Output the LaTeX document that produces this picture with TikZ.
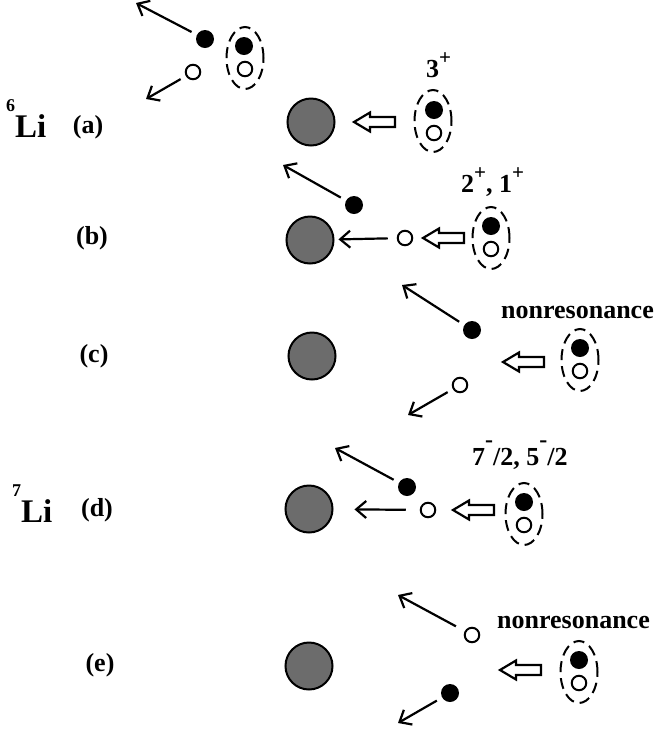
\documentclass[tikz,border=0pt]{standalone}
\usepackage{fontspec}
\setmainfont{Liberation Serif}
\usetikzlibrary{arrows.meta,shapes.geometric}
\definecolor{targetgray}{RGB}{108,108,108}
% raised charge signs for the spin-parity labels
\newcommand\supplus{\raisebox{0.5em}{\fontsize{21}{21}\selectfont +}}
\newcommand\supminus{\raisebox{0.68em}{\fontsize{24}{24}\selectfont -}}
\begin{document}
\begin{tikzpicture}[x=1pt,y=-1pt,
  target/.style={circle, draw, line width=2pt, fill=targetgray, minimum size=47pt, inner sep=0pt},
  proton/.style={circle, fill=black, minimum size=18pt, inner sep=0pt},
  neutron/.style={circle, draw, line width=2pt, fill=white, minimum size=14.5pt, inner sep=0pt},
  pair/.style={ellipse, draw, dash pattern=on 11pt off 6pt, line width=2pt, minimum width=37pt, minimum height=62pt, inner sep=0pt},
  lbl/.style={font=\bfseries\fontsize{26}{30}\selectfont, inner sep=0pt},
  iso/.style={font=\bfseries\fontsize{33}{36}\selectfont, inner sep=0pt, anchor=base west},
  arr/.style={line width=2.2pt, -{Straight Barb[length=10pt,width=17pt]}, shorten <=6pt},
  fatline/.style={draw, line width=2.2pt, fill=white, line join=miter},
  fatarrow/.pic={\path[fatline] (0,0) -- (16,-9.5) -- (16,-5) -- (41,-5) -- (41,5) -- (16,5) -- (16,9.5) -- cycle;}
]
\useasboundingbox (0,0) rectangle (655,732);

% isotope labels
\node[iso] (li6) at (6,137) {\raisebox{26pt}{\fontsize{18}{18}\selectfont 6}Li};
\node[iso] (li7) at (12,522) {\raisebox{26pt}{\fontsize{18}{18}\selectfont 7}Li};

% case labels
\node[lbl] (la) at (88,127) {(a)};
\node[lbl] (lb) at (92,238) {(b)};
\node[lbl] (lc) at (94,356) {(c)};
\node[lbl] (ld) at (97,510) {(d)};
\node[lbl] (le) at (100,665) {(e)};

% targets
\node[target] (Ta) at (311,122) {};
\node[target] (Tb) at (310,240) {};
\node[target] (Tc) at (312,356) {};
\node[target] (Td) at (309,509) {};
\node[target] (Te) at (309,666) {};

% (a) resonant breakup, 3+
\pic at (354,122) {fatarrow};
\node[pair] (Pa) at (433,121) {};
\node[proton] (pa) at (434,110) {};
\node[neutron] (na) at (434,133) {};
\node[lbl, anchor=base west] (ja) at (426,77) {3\supplus};
% fragments flying off after the breakup
\node[pair] (Pt) at (245,58) {};
\node[proton] (pti) at (244,46) {};
\node[neutron] (nti) at (245,69) {};
\node[proton] (pt) at (205,39) {};
\node[neutron] (nt) at (193,72) {};
\coordinate (pt-end) at (136,3);
\coordinate (nt-end) at (146,99);
\draw[arr] (pt) -- (pt-end);
\draw[arr] (nt) -- (nt-end);

% (b) 2+, 1+
\pic at (423,238) {fatarrow};
\node[pair] (Pb) at (491,238) {};
\node[proton] (pbi) at (491,226) {};
\node[neutron] (nbi) at (491,249) {};
\node[lbl, anchor=base west] (jb) at (461,192) {2\supplus, 1\supplus};
\node[proton] (pb) at (354,205) {};
\node[neutron] (nb) at (405,238) {};
\coordinate (pb-end) at (283,165);
\draw[arr] (pb) -- (pb-end);
\draw[arr, shorten <=9pt, shorten >=4pt] (nb) -- (Tb);

% (c) nonresonant breakup
\pic at (503,362) {fatarrow};
\node[pair] (Pc) at (580,360) {};
\node[proton] (pci) at (580,348) {};
\node[neutron] (nci) at (580,371) {};
\node[lbl, anchor=base east] (jc) at (654,318) {nonresonance};
\node[proton] (pc) at (472,330) {};
\node[neutron] (nc) at (460,385) {};
\coordinate (pc-end) at (402,285);
\coordinate (nc-end) at (408,415);
\draw[arr] (pc) -- (pc-end);
\draw[arr] (nc) -- (nc-end);

% (d) 7-/2, 5-/2
\pic at (453,510) {fatarrow};
\node[pair] (Pd) at (524,514) {};
\node[proton] (pdi) at (524,502) {};
\node[neutron] (ndi) at (524,525) {};
\node[lbl, anchor=base west] (jd) at (472,465) {7\supminus/2, 5\supminus/2};
\node[proton] (pd) at (407,487) {};
\node[neutron] (nd) at (428,510) {};
\coordinate (pd-end) at (335,448);
\draw[arr] (pd) -- (pd-end);
\draw[arr, shorten <=14pt, shorten >=21pt] (nd) -- (Td);

% (e) nonresonant breakup
\pic at (500,670) {fatarrow};
\node[pair] (Pe) at (579,672) {};
\node[proton] (pei) at (579,660) {};
\node[neutron] (nei) at (579,683) {};
\node[lbl, anchor=base east] (je) at (650,628) {nonresonance};
\node[neutron] (ne) at (472,635) {};
\node[proton] (pe) at (450,693) {};
\coordinate (ne-end) at (398,595);
\coordinate (pe-end) at (398,723);
\draw[arr, shorten <=10pt] (ne) -- (ne-end);
\draw[arr] (pe) -- (pe-end);
\end{tikzpicture}
\end{document}
